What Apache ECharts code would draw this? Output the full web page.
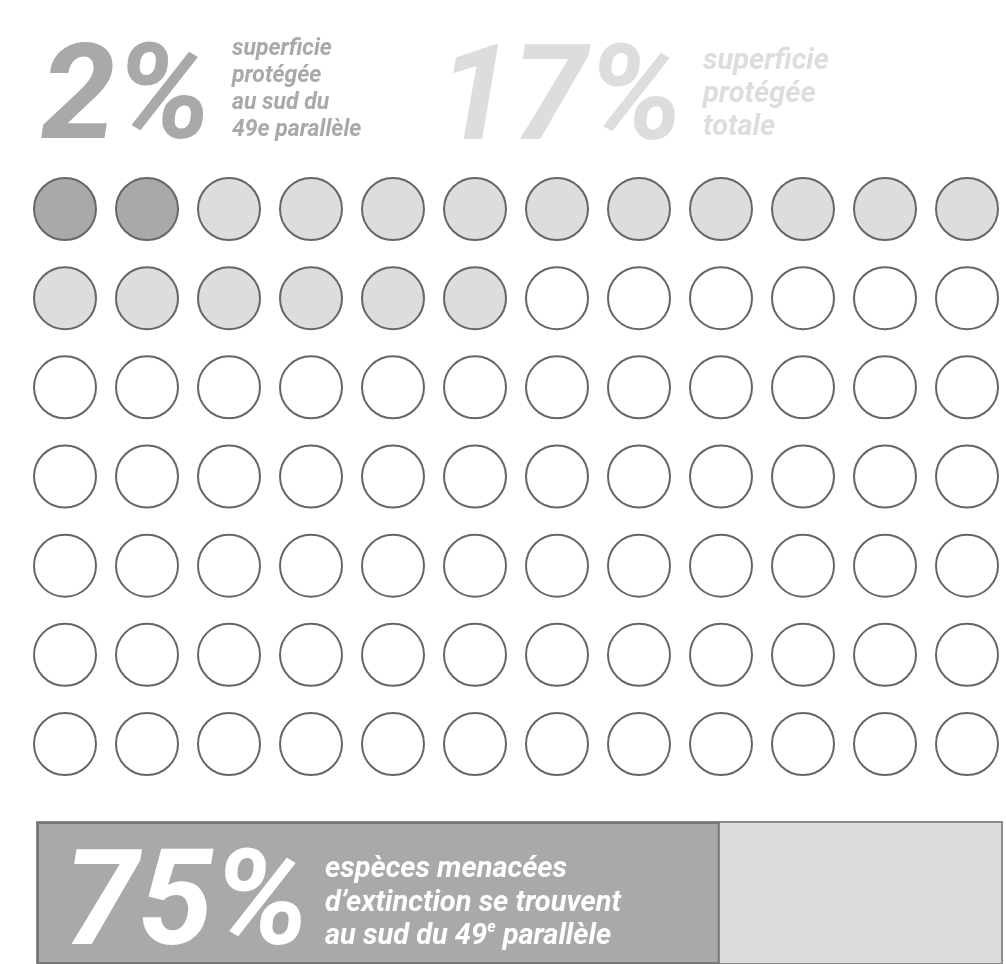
<!DOCTYPE html>
<html>
<head>
<meta charset="utf-8">
<script src="https://cdn.jsdelivr.net/npm/echarts@6/dist/echarts.min.js"></script>
<style>
html,body{margin:0;padding:0;background:#fff;}
#chart{width:1006px;height:964px;}
</style>
</head>
<body>
<div id="chart"></div>
<script>
// ---- data ----
const headlineValues = ['2%', '17%'];
const headlineLabels = [
  'superficie\nprotégée\nau sud du\n49e parallèle',
  'superficie\nprotégée\ntotale'
];
const unitCategories = ['sud du 49e parallèle', 'reste de la superficie protégée', 'non protégée'];
const unitCounts = [2, 16, 66];
const gridColumns = 12;
const gridRows = 7;
const speciesCategories = ['espèces menacées'];
const speciesValues = [75];
const speciesValueLabel = '75%';
const speciesText = ['espèces menacées', 'd’extinction se trouvent', 'au sud du 49'];

// ---- build ----
const unitFill = ['#a9a9a9', '#dddddd', '#ffffff'];
const scatterSeries = [];
let idx = 0;
unitCounts.forEach((n, c) => {
  const pts = [];
  for (let k = 0; k < n; k++, idx++) {
    pts.push([idx % gridColumns, Math.floor(idx / gridColumns)]);
  }
  scatterSeries.push({
    name: unitCategories[c],
    type: 'scatter',
    xAxisIndex: 0, yAxisIndex: 0,
    symbol: 'circle',
    symbolSize: 62,
    silent: true,
    itemStyle: { color: unitFill[c], borderColor: '#666', borderWidth: 2, opacity: 1 },
    data: pts
  });
});

const chart = echarts.init(document.getElementById('chart'), null, { renderer: 'canvas' });
const font = 'Roboto, "Noto Sans", sans-serif';
chart.setOption({
  backgroundColor: '#ffffff',
  animation: false,
  grid: [
    { left: 65, top: 209, width: 902, height: 535 },
    { left: 37, top: 822, width: 965, height: 200 }
  ],
  xAxis: [
    { type: 'value', gridIndex: 0, min: 0, max: gridColumns - 1, show: false },
    { type: 'value', gridIndex: 1, min: 0, max: 106, show: false }
  ],
  yAxis: [
    { type: 'value', gridIndex: 0, min: 0, max: gridRows - 1, inverse: true, show: false },
    { type: 'category', gridIndex: 1, data: speciesCategories, show: false }
  ],
  series: scatterSeries.concat([{
    type: 'bar',
    xAxisIndex: 1, yAxisIndex: 1,
    barWidth: '100%',
    silent: true,
    showBackground: true,
    backgroundStyle: { color: '#dddddd', borderColor: '#8a8a8a', borderWidth: 2 },
    itemStyle: { color: '#a9a9a9', borderColor: '#777', borderWidth: 2 },
    data: speciesValues
  }]),
  graphic: [
    { type: 'text', left: 41, top: 37, z: 10, style: { text: headlineValues[0], fill: '#a9a9a9', font: 'italic bold 134px ' + font } },
    { type: 'text', left: 232, top: 36, z: 10, style: { text: headlineLabels[0], fill: '#a9a9a9', font: 'italic bold 23px ' + font, lineHeight: 27 } },
    { type: 'text', left: 438, top: 38, z: 10, style: { text: headlineValues[1], fill: '#dddddd', font: 'italic bold 134px ' + font } },
    { type: 'text', left: 703, top: 45, z: 10, style: { text: headlineLabels[1], fill: '#dddddd', font: 'italic bold 29px ' + font, lineHeight: 33 } },
    { type: 'text', left: 64, top: 843, z: 10, style: { text: speciesValueLabel, fill: '#ffffff', font: 'italic bold 134px ' + font } },
    { type: 'text', left: 325, top: 853, z: 10, style: {
        text: speciesText[0] + '\n' + speciesText[1] + '\n' + speciesText[2] + '{sup|e} parallèle',
        fill: '#ffffff', font: 'italic bold 29px ' + font, lineHeight: 33.5,
        rich: { sup: { fill: '#ffffff', font: 'italic bold 16px ' + font, fontSize: 16, fontWeight: 'bold', fontStyle: 'italic', fontFamily: 'Roboto', verticalAlign: 'top', lineHeight: 16 } }
      } }
  ]
});
</script>
</body>
</html>
